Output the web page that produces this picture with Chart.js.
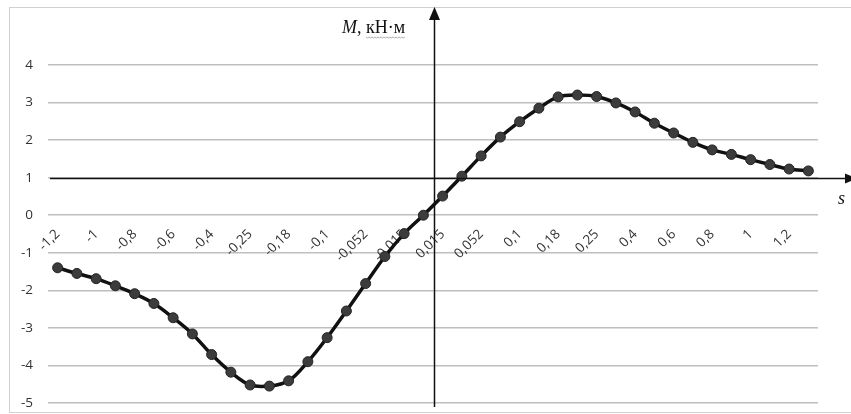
<!DOCTYPE html>
<html>
<head>
<meta charset="utf-8">
<script src="https://cdn.jsdelivr.net/npm/chart.js@4.4.1/dist/chart.umd.min.js"></script>
<style>
  html, body { margin: 0; padding: 0; background: #fff; }
  #wrap { position: relative; width: 851px; height: 414px; }
</style>
</head>
<body>
<div id="wrap"><canvas id="chart" width="851" height="414"></canvas></div>
<script>
// s values (category axis), only every other one is shown as a label
const sValues = [-1.2, -1.1, -1, -0.9, -0.8, -0.7, -0.6, -0.5, -0.4, -0.3,
                 -0.25, -0.2, -0.18, -0.15, -0.1, -0.075, -0.052, -0.03, -0.015, 0,
                 0.015, 0.03, 0.052, 0.075, 0.1, 0.15, 0.18, 0.2, 0.25, 0.3,
                 0.4, 0.5, 0.6, 0.7, 0.8, 0.9, 1, 1.1, 1.2, 1.3];

// moment M, kN·m
const mValues = [-1.40, -1.55, -1.69, -1.88, -2.09, -2.35, -2.73, -3.16, -3.71, -4.18,
                 -4.52, -4.55, -4.41, -3.90, -3.26, -2.55, -1.82, -1.10, -0.49, 0.00,
                 0.51, 1.04, 1.58, 2.08, 2.49, 2.85, 3.15, 3.20, 3.16, 2.99,
                 2.75, 2.45, 2.19, 1.94, 1.74, 1.62, 1.48, 1.35, 1.23, 1.18];

const yMin = -5;
const yMax = 4;

const categoryLabels = sValues.map(v => String(v).replace('.', ','));

// hand drawn axes, labels and outer frame
const overlayPlugin = {
    id: 'overlay',
    afterDraw(chart) {
        const { ctx, scales } = chart;
        const x = scales.x, y = scales.y;
        ctx.save();

        // frame
        ctx.strokeStyle = '#d0d0d0';
        ctx.lineWidth = 1;
        ctx.strokeRect(9.5, 7.5, 900, 405);

        // horizontal axis line (drawn at M = 1) with arrow
        const hy = Math.round(y.getPixelForValue(1)) + 0.5;
        ctx.strokeStyle = '#111';
        ctx.fillStyle = '#111';
        ctx.lineWidth = 1.5;
        ctx.beginPath();
        ctx.moveTo(chart.chartArea.left + 2, hy);
        ctx.lineTo(848, hy);
        ctx.stroke();
        ctx.beginPath();
        ctx.moveTo(857, hy);
        ctx.lineTo(845, hy - 5);
        ctx.lineTo(845, hy + 5);
        ctx.closePath();
        ctx.fill();

        // vertical axis line with arrow
        const vx = Math.round(x.getPixelForValue(19.55)) + 0.5;
        ctx.beginPath();
        ctx.moveTo(vx, 18);
        ctx.lineTo(vx, chart.chartArea.bottom + 4);
        ctx.stroke();
        ctx.beginPath();
        ctx.moveTo(vx, 7);
        ctx.lineTo(vx - 5.5, 20);
        ctx.lineTo(vx + 5.5, 20);
        ctx.closePath();
        ctx.fill();

        // axis titles
        ctx.fillStyle = '#111';
        ctx.textBaseline = 'alphabetic';
        ctx.font = 'italic 18px "Liberation Serif"';
        ctx.fillText('M', 342, 33);
        const mw = ctx.measureText('M').width;
        ctx.font = '18px "Liberation Serif"';
        ctx.fillText(', кН·м', 342 + mw, 33);
        const uStart = 342 + mw + ctx.measureText(', ').width;
        const uEnd = 342 + mw + ctx.measureText(', кН·м').width;
        // spell-check squiggle
        ctx.strokeStyle = '#999';
        ctx.lineWidth = 0.8;
        ctx.beginPath();
        for (let px = uStart, i = 0; px <= uEnd; px += 1.5, i++) {
            const py = 37 + (i % 2 ? 1 : 0);
            if (i === 0) ctx.moveTo(px, py); else ctx.lineTo(px, py);
        }
        ctx.stroke();

        ctx.font = 'italic 18px "Liberation Serif"';
        ctx.fillText('s', 838, 204);
        ctx.restore();
    }
};

const ctx = document.getElementById('chart').getContext('2d');
const momentChart = new Chart(ctx, {
    type: 'line',
    data: {
        labels: categoryLabels,
        datasets: [{
            label: 'M',
            data: mValues,
            borderColor: '#111',
            borderWidth: 3.5,
            backgroundColor: '#3c3c3c',
            pointBackgroundColor: '#3c3c3c',
            pointBorderColor: '#222',
            pointBorderWidth: 1,
            pointRadius: 5,
            tension: 0.35,
            fill: false
        }]
    },
    options: {
        responsive: false,
        animation: false,
        events: [],
        layout: {
            padding: { left: 10, right: 33, top: 65, bottom: 11 }
        },
        plugins: {
            legend: { display: false },
            tooltip: { enabled: false }
        },
        scales: {
            x: {
                type: 'category',
                offset: true,
                position: { y: 0 },
                grid: { display: false, drawTicks: false },
                border: { display: false },
                ticks: {
                    autoSkip: false,
                    minRotation: 45,
                    maxRotation: 45,
                    padding: 11,
                    color: '#333',
                    font: { family: '"Open Sans"', size: 13.5 },
                    callback: (val, i) => (i % 2 === 0 ? categoryLabels[i] : '')
                },
                afterFit: scale => {
                    scale.height = 0;
                    scale.paddingTop = 0;
                    scale.paddingBottom = 0;
                    scale.paddingLeft = 0;
                    scale.paddingRight = 0;
                }
            },
            y: {
                min: yMin,
                max: yMax,
                grid: { color: '#bfbfbf', lineWidth: 1.5, drawTicks: false },
                border: { display: false },
                ticks: {
                    stepSize: 1,
                    padding: 15,
                    color: '#333',
                    font: { family: '"Open Sans"', size: 13.5 }
                },
                afterFit: scale => {
                    scale.width = 38;
                    scale.paddingTop = 0;
                    scale.paddingBottom = 0;
                }
            }
        }
    },
    plugins: [overlayPlugin]
});
</script>
</body>
</html>
